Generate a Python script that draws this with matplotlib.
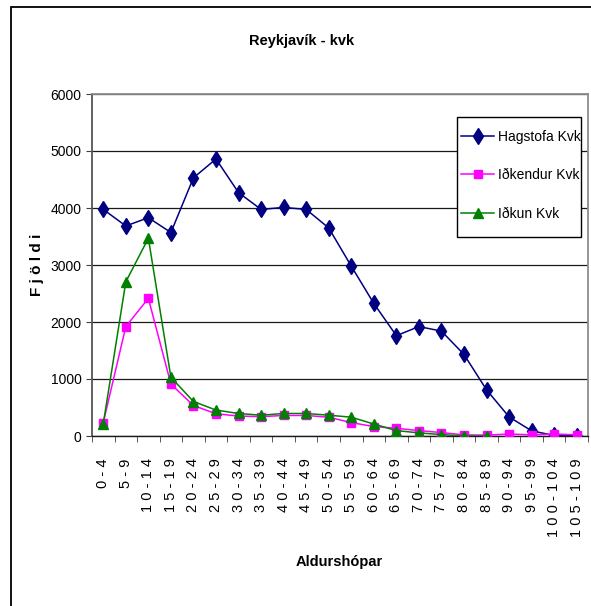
import matplotlib
matplotlib.use("Agg")
import matplotlib.pyplot as plt
from matplotlib.patches import Rectangle
from matplotlib.ticker import FixedLocator, MultipleLocator

plt.rcParams["font.family"] = ["Liberation Sans", "DejaVu Sans"]

age_groups = ["0-4", "5-9", "10-14", "15-19", "20-24", "25-29", "30-34",
              "35-39", "40-44", "45-49", "50-54", "55-59", "60-64", "65-69",
              "70-74", "75-79", "80-84", "85-89", "90-94", "95-99",
              "100-104", "105-109"]

hagstofa = [3975, 3685, 3830, 3570, 4530, 4860, 4270, 3975, 4010, 3975,
            3650, 2980, 2325, 1760, 1920, 1840, 1430, 810, 335, 90, 10, 5]
idkendur = [235, 1920, 2415, 910, 535, 390, 350, 340, 360, 360,
            330, 235, 165, 135, 95, 60, 20, 15, 35, 20, 35, 20]
idkun = [215, 2705, 3470, 1030, 605, 455, 395, 365, 395, 395,
         365, 330, 210, 95, 55, 25, 0, 0]

W, H = 591, 606
fig = plt.figure(figsize=(W / 100, H / 100), dpi=100)

# outer chart frame (left and top edges show, the rest runs off the canvas)
fig.patches.append(Rectangle((11 / W, -0.05), 1.1, 1 - 7 / H + 0.05,
                             transform=fig.transFigure, fill=False,
                             edgecolor="black", linewidth=1.3))

ax = fig.add_axes([92 / W, 1 - 436 / H, 496 / W, 342 / H])

x = list(range(len(age_groups)))
l1, = ax.plot(x, hagstofa, color="#000080", marker="d", markersize=8.5,
              linewidth=1.1, label="Hagstofa Kvk", zorder=3)
l2, = ax.plot(x, idkendur, color="#FF00FF", marker="s", markersize=5.5,
              linewidth=1.1, label="Iðkendur Kvk", zorder=4)
l3, = ax.plot(x[:len(idkun)], idkun, color="#008000", marker="^",
              markersize=7, linewidth=1.1, label="Iðkun Kvk", zorder=5)

ax.set_xlim(-0.5, len(age_groups) - 0.5)
ax.set_ylim(0, 6000)
ax.yaxis.set_major_locator(MultipleLocator(1000))
ax.yaxis.grid(True, color="#1a1a1a", linewidth=0.9)
ax.set_axisbelow(True)

ax.set_xticks(x)
ax.set_xticklabels([" ".join(g) for g in age_groups], rotation=90,
                   fontsize=10.5)
ax.xaxis.set_minor_locator(FixedLocator([i - 0.5 for i in range(len(x) + 1)]))
ax.tick_params(axis="x", which="major", length=0, pad=16)
ax.tick_params(axis="x", which="minor", length=4, color="#404040",
               direction="out")
ax.tick_params(axis="y", length=4, color="#404040", labelsize=10, pad=3.5)

for side in ("top", "right"):
    ax.spines[side].set_color("#8c8c8c")
    ax.spines[side].set_linewidth(1.3)
ax.spines["left"].set_color("#555555")
ax.spines["left"].set_linewidth(1.3)
ax.spines["bottom"].set_color("#1a1a1a")
ax.spines["bottom"].set_linewidth(1.0)

# legend box drawn separately so the padding can differ per side
fig.patches.append(Rectangle((457 / W, 1 - 237 / H), 124 / W, 120 / H,
                             transform=fig.transFigure, facecolor="white",
                             edgecolor="black", linewidth=1.0, zorder=6))
leg = fig.legend(handles=[l1, l2, l3], loc="upper left",
                 bbox_to_anchor=(461 / W, 1 - 130 / H), frameon=False,
                 numpoints=1, fontsize=10, handlelength=2.4,
                 handletextpad=0.3, labelspacing=1.75, borderpad=0,
                 borderaxespad=0)
leg.set_zorder(7)

fig.text(302 / W, 1 - 41 / H, "Reykjavík - kvk", ha="center", va="center",
         fontsize=10.5, fontweight="bold")
fig.text(37 / W, 1 - 265 / H, "F j ö l d i", ha="center", va="center",
         rotation=90, fontsize=11, fontweight="bold")
fig.text(339 / W, 1 - 562 / H, "Aldurshópar", ha="center", va="center",
         fontsize=10.5, fontweight="bold")

fig.savefig("out.png", dpi=100)
